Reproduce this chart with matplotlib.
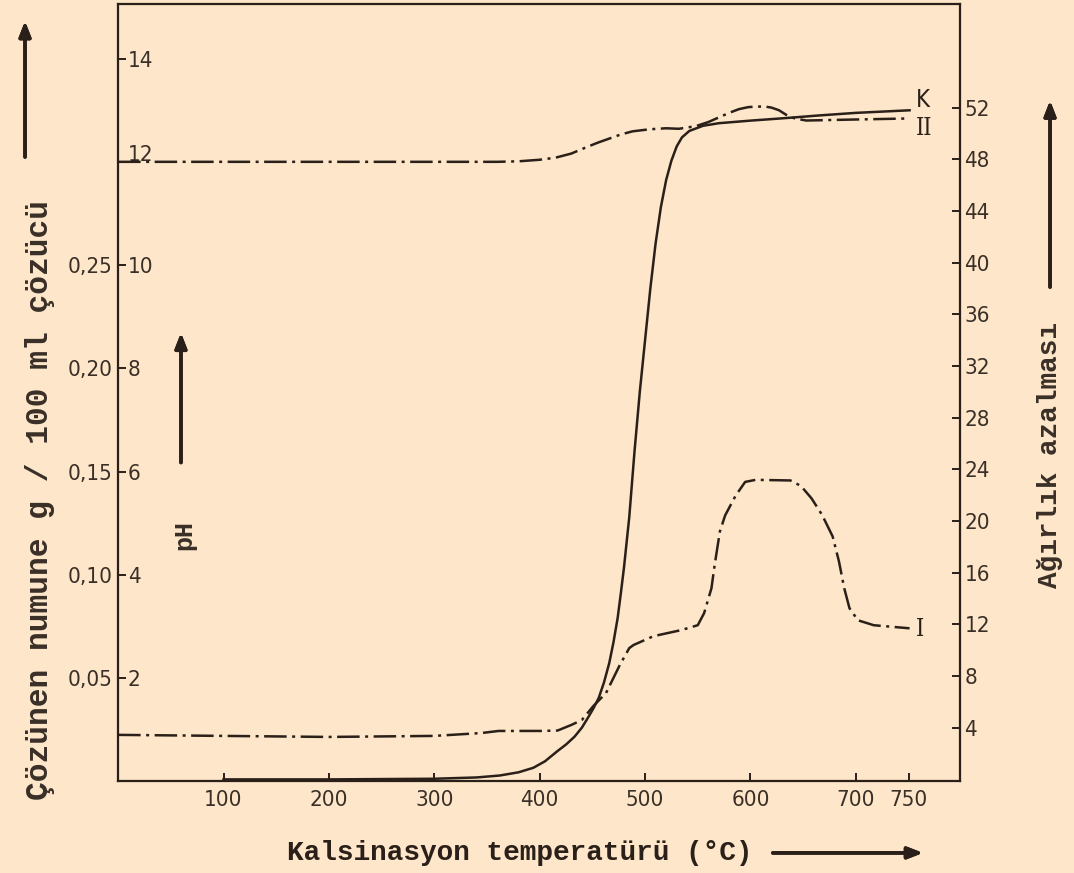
import matplotlib
matplotlib.use("Agg")
from matplotlib import pyplot as plt
from matplotlib.transforms import ScaledTranslation

# calcination temperature (C) / pH  - curve II
ph_temp = [0, 100, 200, 300, 360, 380, 400, 415, 430, 444, 455, 466, 477, 488, 504, 520, 532, 548, 560, 570, 580, 589, 598, 606, 614, 620, 627, 634, 642, 653, 700, 751]
ph_val = [12.0, 12.0, 12.0, 12.0, 12.0, 12.01, 12.04, 12.08, 12.16, 12.28, 12.37, 12.45, 12.53, 12.59, 12.63, 12.65, 12.64, 12.69, 12.77, 12.86, 12.95, 13.02, 13.06, 13.07, 13.07, 13.05, 13.0, 12.91, 12.84, 12.8, 12.82, 12.84]

# weight loss (%) - curve K
k_temp = [100, 200, 300, 340, 362, 380, 394, 405, 417, 425, 433, 440, 446, 451, 456, 461, 466, 470, 474, 477, 480, 485, 490, 495, 500, 505, 510, 515, 520, 525, 530, 535, 542, 555, 570, 600, 634, 665, 700, 751]
k_val = [0.0, 0.0, 0.05, 0.15, 0.3, 0.55, 0.9, 1.4, 2.2, 2.7, 3.3, 4.0, 4.8, 5.5, 6.3, 7.5, 9.0, 10.6, 12.5, 14.4, 16.4, 20.3, 25.4, 30.0, 34.0, 38.0, 41.5, 44.3, 46.4, 47.9, 49.0, 49.7, 50.2, 50.6, 50.8, 51.0, 51.2, 51.4, 51.6, 51.8]

# dissolved sample g / 100 ml solvent - curve I
i_temp = [0, 100, 200, 300, 345, 361, 401, 417, 430, 440, 451, 463, 476, 485, 489, 508, 534, 550, 556, 563, 566, 571, 576, 586, 595, 605, 638, 648, 658, 668, 678, 684, 689, 694, 702, 717, 751]
i_val = [0.0225, 0.022, 0.0215, 0.022, 0.0234, 0.0244, 0.0244, 0.0246, 0.0273, 0.0297, 0.0365, 0.0428, 0.0563, 0.0645, 0.066, 0.0703, 0.0732, 0.0756, 0.0814, 0.0935, 0.1046, 0.121, 0.1288, 0.1384, 0.145, 0.146, 0.1457, 0.143, 0.137, 0.129, 0.1186, 0.1065, 0.0935, 0.0838, 0.078, 0.0756, 0.0741]

x_ticks = [100, 200, 300, 400, 500, 600, 700, 750]
ph_ticks = [2, 4, 6, 8, 10, 12, 14]
sol_ticks = [0.05, 0.10, 0.15, 0.20, 0.25]
w_ticks = [4, 8, 12, 16, 20, 24, 28, 32, 36, 40, 44, 48, 52]

paper = '#fde6c9'
ink = '#2a2019'
num_col = '#3a2f27'
type_font = 'Liberation Mono'
dashdot = (0, (9, 2.2, 1.2, 2.2))

plt.rcParams['font.family'] = ['DejaVu Sans']
plt.rcParams['font.stretch'] = 'condensed'

fig = plt.figure(figsize=(10.74, 8.73), dpi=100, facecolor=paper)
ax = fig.add_axes([0.110, 0.105, 0.784, 0.890])
ax.set_facecolor(paper)

# pH axis (left, labels inside)
ax.set_xlim(0, 799)
ax.set_ylim(0, 15.05)
for s in ax.spines.values():
    s.set_color(ink)
    s.set_linewidth(1.6)
ax.set_xticks(x_ticks)
ax.set_yticks(ph_ticks)
ax.tick_params(axis='x', direction='in', length=6, width=1.4, color=ink,
               labelsize=16, labelcolor=num_col, pad=6)
ax.tick_params(axis='y', direction='in', length=6, width=1.4, color=ink,
               labelsize=16, labelcolor=num_col, pad=-7)
for lab in ax.get_yticklabels():
    lab.set_horizontalalignment('left')
    if lab.get_text() == '12':
        lab.set_transform(lab.get_transform() + ScaledTranslation(0, 0.09, fig.dpi_scale_trans))

ax.plot(ph_temp, ph_val, color=ink, lw=1.8, linestyle=dashdot)

# solubility axis (left, labels outside)
ax_s = ax.twinx()
ax_s.set_ylim(0, 15.05 * 0.025)
ax_s.yaxis.set_ticks_position('left')
ax_s.yaxis.set_label_position('left')
ax_s.set_yticks(sol_ticks)
ax_s.set_yticklabels([('%.2f' % v).replace('.', ',') for v in sol_ticks])
ax_s.tick_params(axis='y', length=0, labelsize=16, labelcolor=num_col, pad=4)
for s in ax_s.spines.values():
    s.set_visible(False)
ax_s.plot(i_temp, i_val, color=ink, lw=1.8, linestyle=dashdot)

# weight loss axis (right)
ax_w = ax.twinx()
ax_w.set_ylim(-0.15, 60)
ax_w.set_yticks(w_ticks)
ax_w.tick_params(axis='y', direction='in', length=6, width=1.4, color=ink,
                 labelsize=16, labelcolor=num_col, pad=3)
for s in ax_w.spines.values():
    s.set_visible(False)
ax_w.plot(k_temp, k_val, color=ink, lw=1.8)

# curve names
ax_w.text(757, 52.6, 'K', fontsize=17, color=ink, va='center', ha='left')
ax.text(757, 12.64, 'II', fontsize=17, color=ink, va='center', ha='left', family='DejaVu Serif')
ax_s.text(757, 0.0735, 'I', fontsize=17, color=ink, va='center', ha='left', family='DejaVu Serif')

# axis titles, typewriter style
fig.text(0.037, 0.427, 'Çözünen numune g / 100 ml çözücü', rotation=90, ha='center', va='center',
         fontsize=22.5, fontweight='bold', family=type_font, color=num_col)
fig.text(0.978, 0.479, 'Ağırlık azalması', rotation=90, ha='center', va='center',
         fontsize=20, fontweight='bold', family=type_font, color=num_col)
fig.text(0.484, 0.023, 'Kalsinasyon temperatürü (°C)', ha='center', va='center',
         fontsize=20, fontweight='bold', family=type_font, color=ink)
fig.text(0.172, 0.387, 'pH', rotation=90, ha='center', va='center',
         fontsize=18, fontweight='bold', family=type_font, color=num_col)

# arrows
arrow = dict(arrowstyle='-|>,head_length=0.9,head_width=0.35', color=ink, lw=2.6)
fig.add_artist(plt.annotate('', xy=(0.0233, 0.979), xytext=(0.0233, 0.817),
                            xycoords='figure fraction', arrowprops=arrow))
fig.add_artist(plt.annotate('', xy=(0.1685, 0.622), xytext=(0.1685, 0.467),
                            xycoords='figure fraction', arrowprops=arrow))
fig.add_artist(plt.annotate('', xy=(0.9777, 0.888), xytext=(0.9777, 0.668),
                            xycoords='figure fraction', arrowprops=arrow))
fig.add_artist(plt.annotate('', xy=(0.862, 0.023), xytext=(0.717, 0.023),
                            xycoords='figure fraction', arrowprops=arrow))

fig.savefig('out.png', dpi=100, facecolor=paper)
